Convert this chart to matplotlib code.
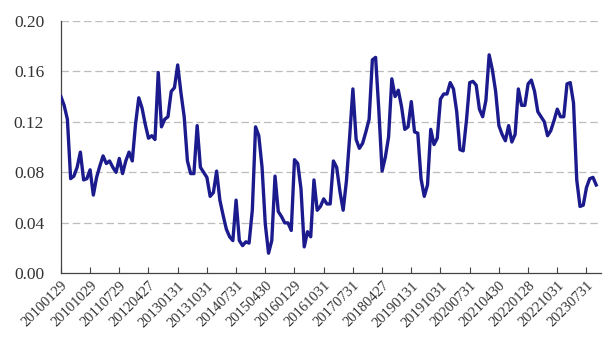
import numpy as np
import matplotlib
matplotlib.use("Agg")
import matplotlib.pyplot as plt

# monthly values, Jan 2010 onwards
values = [
    0.140, 0.133, 0.122, 0.075, 0.077, 0.084, 0.096, 0.074, 0.075, 0.082,
    0.062, 0.076, 0.085, 0.093, 0.087, 0.089, 0.084, 0.080, 0.091, 0.079,
    0.089, 0.096, 0.089, 0.118, 0.139, 0.131, 0.118, 0.107, 0.109, 0.106,
    0.159, 0.116, 0.122, 0.124, 0.144, 0.147, 0.165, 0.143, 0.124, 0.089,
    0.079, 0.079, 0.117, 0.084, 0.080, 0.076, 0.061, 0.064, 0.081, 0.058,
    0.046, 0.035, 0.029, 0.026, 0.058, 0.026, 0.022, 0.025, 0.024, 0.050,
    0.116, 0.109, 0.084, 0.039, 0.016, 0.026, 0.077, 0.049, 0.045, 0.040,
    0.040, 0.034, 0.090, 0.087, 0.067, 0.021, 0.033, 0.029, 0.074, 0.050,
    0.053, 0.059, 0.055, 0.055, 0.089, 0.084, 0.065, 0.050, 0.073, 0.108,
    0.146, 0.106, 0.099, 0.103, 0.112, 0.122, 0.169, 0.171, 0.129, 0.081,
    0.092, 0.108, 0.154, 0.140, 0.145, 0.132, 0.114, 0.116, 0.136, 0.112,
    0.111, 0.075, 0.061, 0.070, 0.114, 0.102, 0.107, 0.138, 0.142, 0.142,
    0.151, 0.146, 0.128, 0.098, 0.097, 0.121, 0.151, 0.152, 0.149, 0.130,
    0.124, 0.137, 0.173, 0.161, 0.144, 0.117, 0.110, 0.105, 0.117, 0.104,
    0.110, 0.146, 0.133, 0.133, 0.150, 0.153, 0.144, 0.128, 0.124, 0.120,
    0.109, 0.113, 0.121, 0.130, 0.124, 0.124, 0.150, 0.151, 0.135, 0.074,
    0.053, 0.054, 0.068, 0.075, 0.076, 0.070,
]

tick_labels = [
    "20100129", "20101029", "20110729", "20120427", "20130131", "20131031",
    "20140731", "20150430", "20160129", "20161031", "20170731", "20180427",
    "20190131", "20191031", "20200731", "20210430", "20220128", "20221031",
    "20230731",
]
tick_step = 9

y_ticks = [0.00, 0.04, 0.08, 0.12, 0.16, 0.20]

plt.rcParams["font.family"] = ["Liberation Serif", "DejaVu Serif"]

x = np.arange(len(values))

fig = plt.figure(figsize=(6.09, 3.51), dpi=100)
ax = fig.add_axes([0.100, 0.221, 0.887, 0.720])

for yv in y_ticks[1:]:
    ax.axhline(yv, color="#bdbdbd", linestyle=(0, (6, 3)), linewidth=0.9, zorder=1)

ax.plot(x, values, color="#1b1b8e", linewidth=2.4, solid_joinstyle="round", zorder=3)

ax.set_xlim(0, len(values) + 0.5)
ax.set_ylim(0, 0.20)
ax.set_yticks(y_ticks)
ax.set_yticklabels([f"{v:.2f}" for v in y_ticks], fontsize=12.5, color="#333333")
ax.set_xticks(np.arange(len(tick_labels)) * tick_step)
ax.set_xticklabels(tick_labels, rotation=45, ha="right", rotation_mode="anchor",
                   fontsize=10.5, color="#333333")

ax.tick_params(axis="y", length=0, pad=12)
ax.tick_params(axis="x", direction="in", length=4, width=0.8, color="#444444", pad=4)

for side in ["top", "right"]:
    ax.spines[side].set_visible(False)
for side in ["left", "bottom"]:
    ax.spines[side].set_color("#444444")
    ax.spines[side].set_linewidth(0.9)

fig.savefig("out.png", dpi=100)
plt.close(fig)
